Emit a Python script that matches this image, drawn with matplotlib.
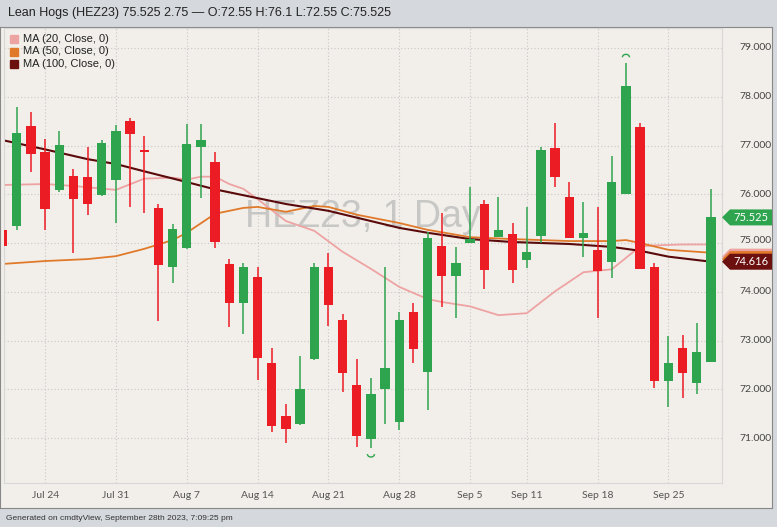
import matplotlib
matplotlib.use("Agg")
import matplotlib.pyplot as plt
from matplotlib.patches import Arc, Polygon
import numpy as np

dates = ["Jul 19","Jul 20","Jul 21","Jul 24","Jul 25","Jul 26","Jul 27","Jul 28","Jul 31","Aug 1","Aug 2","Aug 3","Aug 4",
         "Aug 7","Aug 8","Aug 9","Aug 10","Aug 11","Aug 14","Aug 15","Aug 16","Aug 17","Aug 18","Aug 21","Aug 22","Aug 23",
         "Aug 24","Aug 25","Aug 28","Aug 29","Aug 30","Aug 31","Sep 1","Sep 5","Sep 6","Sep 7","Sep 8","Sep 11","Sep 12",
         "Sep 13","Sep 14","Sep 15","Sep 18","Sep 19","Sep 20","Sep 21","Sep 22","Sep 25","Sep 26","Sep 27","Sep 28"]
opens  = [75.27,75.35,77.40,76.87,76.09,76.37,76.35,75.98,76.29,77.50,76.90,75.72,74.51,74.90,76.97,76.66,74.57,73.77,
          74.30,72.54,71.45,71.29,72.62,74.51,73.42,72.09,70.98,72.01,71.33,73.58,72.35,74.94,74.32,75.00,75.80,75.12,
          75.18,74.65,75.14,76.95,75.94,75.10,74.86,74.61,76.00,77.38,74.51,72.17,72.85,72.13,72.55]
highs  = [75.30,77.79,77.69,77.13,77.30,76.52,76.97,77.11,77.42,77.56,77.19,75.80,75.39,77.44,77.44,76.87,74.67,74.59,
          74.51,72.85,71.70,72.68,74.59,74.79,73.54,72.62,72.23,74.51,73.58,73.77,75.23,75.62,74.92,76.15,75.88,75.94,
          75.41,75.74,76.97,77.46,76.25,75.84,75.74,76.78,78.69,77.46,74.59,73.09,73.11,73.36,76.10]
lows   = [74.90,75.27,76.46,75.27,76.05,74.79,75.57,75.96,75.41,75.74,75.62,73.40,74.18,74.88,75.92,74.90,73.28,73.13,
          72.19,71.12,70.90,71.27,72.60,73.30,71.94,70.82,70.79,71.29,71.16,72.54,71.57,73.69,73.46,75.00,74.06,75.12,
          74.18,74.49,75.00,76.15,75.10,74.71,73.46,74.28,76.00,74.47,72.03,71.64,71.82,71.90,72.55]
closes = [74.94,77.26,76.83,75.70,77.01,75.90,75.80,77.05,77.30,77.24,76.87,74.55,75.29,77.03,77.11,75.02,73.77,74.51,
          72.64,71.25,71.18,72.01,74.51,73.73,72.33,71.04,71.90,72.44,73.42,72.83,75.10,74.32,74.59,75.08,74.45,75.27,
          74.45,74.82,76.91,76.35,75.10,75.21,74.43,76.25,78.22,74.47,72.17,72.54,72.33,72.76,75.525]

ma20_idx = [0,3,5,8,10,12,13,14,15,16,17,18,20,22,24,26,28,30,31,33,35,37,39,41,43,45,46,48,50]
ma20_val = [76.19,76.21,76.17,76.09,76.32,76.34,76.30,76.36,76.36,76.21,76.11,75.90,75.45,75.25,74.82,74.47,74.10,73.85,
            73.79,73.70,73.52,73.56,74.01,74.40,74.46,74.93,74.95,74.97,74.97]
ma50_idx = [0,3,6,8,10,12,13,15,17,18,20,22,23,25,28,30,33,36,40,43,44,45,47,50]
ma50_val = [74.57,74.63,74.67,74.73,74.88,75.06,75.21,75.60,75.72,75.74,75.64,75.76,75.74,75.58,75.41,75.27,75.12,
            75.08,75.04,75.04,75.06,75.00,74.86,74.80]
ma100_idx = [0,3,6,8,10,13,15,18,20,23,26,28,30,33,36,40,43,45,47,50]
ma100_val = [77.11,76.92,76.72,76.62,76.47,76.25,76.10,75.92,75.80,75.66,75.45,75.31,75.21,75.08,75.02,74.98,74.92,
             74.84,74.72,74.616]

xtick_labels = ["Jul 24","Jul 31","Aug 7","Aug 14","Aug 21","Aug 28","Sep 5","Sep 11","Sep 18","Sep 25"]
yticks = [71,72,73,74,75,76,77,78,79]

GREEN = "#2fa44e"; RED = "#ec1c24"
BG = "#f2efea"; OUTER = "#d5d8dc"

fig = plt.figure(figsize=(7.77, 5.27), dpi=100)
fig.patch.set_facecolor(OUTER)
W, H = 777, 527
def rect(x0, y0, x1, y1):
    return [x0/W, 1-y1/H, (x1-x0)/W, (y1-y0)/H]

bgax = fig.add_axes(rect(0, 27, 772, 508))
bgax.set_facecolor(BG); bgax.set_xticks([]); bgax.set_yticks([])
for s in bgax.spines.values(): s.set_color("#888888"); s.set_linewidth(0.8)

ax = fig.add_axes(rect(4, 28, 722, 483))
ax.set_facecolor(BG)
ylo = 79 - (483-48)/48.75; yhi = 79 + (48-28)/48.75
ax.set_ylim(ylo, yhi)
ax.set_xlim(0.1, 50.78)

x = np.arange(len(dates))
for xi, o, h, l, c in zip(x, opens, highs, lows, closes):
    col = GREEN if c >= o else RED
    ax.vlines(xi, l, h, color=col, lw=1.1, zorder=3)
    b = max(abs(c - o), 0.04)
    ax.add_patch(plt.Rectangle((xi-0.33, min(o, c)), 0.66, b, color=col, zorder=4, lw=0))

ax.plot(ma20_idx, ma20_val, color="#eea3a3", lw=1.3, zorder=2)
ax.plot(ma50_idx, ma50_val, color="#e07a2a", lw=1.3, zorder=2)
ax.plot(ma100_idx, ma100_val, color="#5a0a0a", lw=1.5, zorder=2)

tick_pos = [dates.index(d) for d in xtick_labels]
for tp in tick_pos:
    ax.axvline(tp, color="#c8c8c8", lw=0.8, ls=(0, (1, 2)), zorder=0)
for yt in yticks:
    ax.axhline(yt, color="#c8c8c8", lw=0.8, ls=(0, (1, 2)), zorder=0)
ax.set_xticks([]); ax.set_yticks([])
for s in ax.spines.values(): s.set_color("#d8d8d8"); s.set_linewidth(0.8)

ax.text(0.5, 0.585, "HEZ23, 1 Day", transform=ax.transAxes, ha="center", va="center",
        fontsize=27, color="#bdbdbd", alpha=0.8, zorder=1, family="Liberation Sans")

hi_i = int(np.argmax(highs)); lo_i = int(np.argmin(lows))
ax.add_patch(Arc((hi_i, highs[hi_i] + 0.12), 0.5, 0.12, theta1=0, theta2=180, color=GREEN, lw=1, zorder=5))
ax.add_patch(Arc((lo_i, lows[lo_i] - 0.12), 0.5, 0.12, theta1=180, theta2=360, color=GREEN, lw=1, zorder=5))

def px_x(i):
    return 4 + (i - 0.1) / (50.78 - 0.1) * 718
for lab, tp in zip(xtick_labels, tick_pos):
    fig.text(px_x(tp)/W, 1-495/H, lab, ha="center", va="center", fontsize=7.5, color="#555555", family="Lato")
def px_y(v):
    return 28 + (yhi - v) / (yhi - ylo) * 455
for yt in yticks:
    off = 3 if yt == 75 else 0
    fig.text(755/W, 1-(px_y(yt)-off)/H, f"{yt:.3f}", ha="center", va="center", fontsize=7.5, color="#444444", family="Lato")

def tag(v, fc, txt=None, z=3):
    yc = px_y(v); hh = 8
    pts = [(722/W, 1-yc/H), (730/W, 1-(yc-hh)/H), (772/W, 1-(yc-hh)/H), (772/W, 1-(yc+hh)/H), (730/W, 1-(yc+hh)/H)]
    fig.patches.append(Polygon(pts, closed=True, transform=fig.transFigure, fc=fc, ec="none", zorder=z))
    if txt:
        fig.text(751/W, 1-yc/H, txt, ha="center", va="center", fontsize=8, color="white", family="Lato", zorder=z+1)
tag(74.72, "#eea3a3")
tag(74.67, "#e07a2a")
tag(74.616, "#6b0f0f", "74.616")
tag(75.525, GREEN, "75.525")

fig.text(8/W, 1-13/H, "Lean Hogs (HEZ23) 75.525 2.75 — O:72.55 H:76.1 L:72.55 C:75.525",
         ha="left", va="center", fontsize=9, color="#222222", family="Liberation Sans")
leg = [("#eea3a3", "MA (20, Close, 0)"), ("#e07a2a", "MA (50, Close, 0)"), ("#6b0f0f", "MA (100, Close, 0)")]
for k, (c, t) in enumerate(leg):
    yy = 39 + k*12.5
    fig.patches.append(plt.Rectangle((10/W, 1-(yy+4)/H), 8/W, 8/H, transform=fig.transFigure, color=c))
    fig.text(23/W, 1-yy/H, t, ha="left", va="center", fontsize=8, color="#222222", family="Liberation Sans")
fig.text(6/W, 1-518/H, "Generated on cmdtyView, September 28th 2023, 7:09:25 pm", ha="left", va="center",
         fontsize=6, color="#333333", family="Liberation Sans")

fig.savefig("out.png", dpi=100, facecolor=fig.get_facecolor())
